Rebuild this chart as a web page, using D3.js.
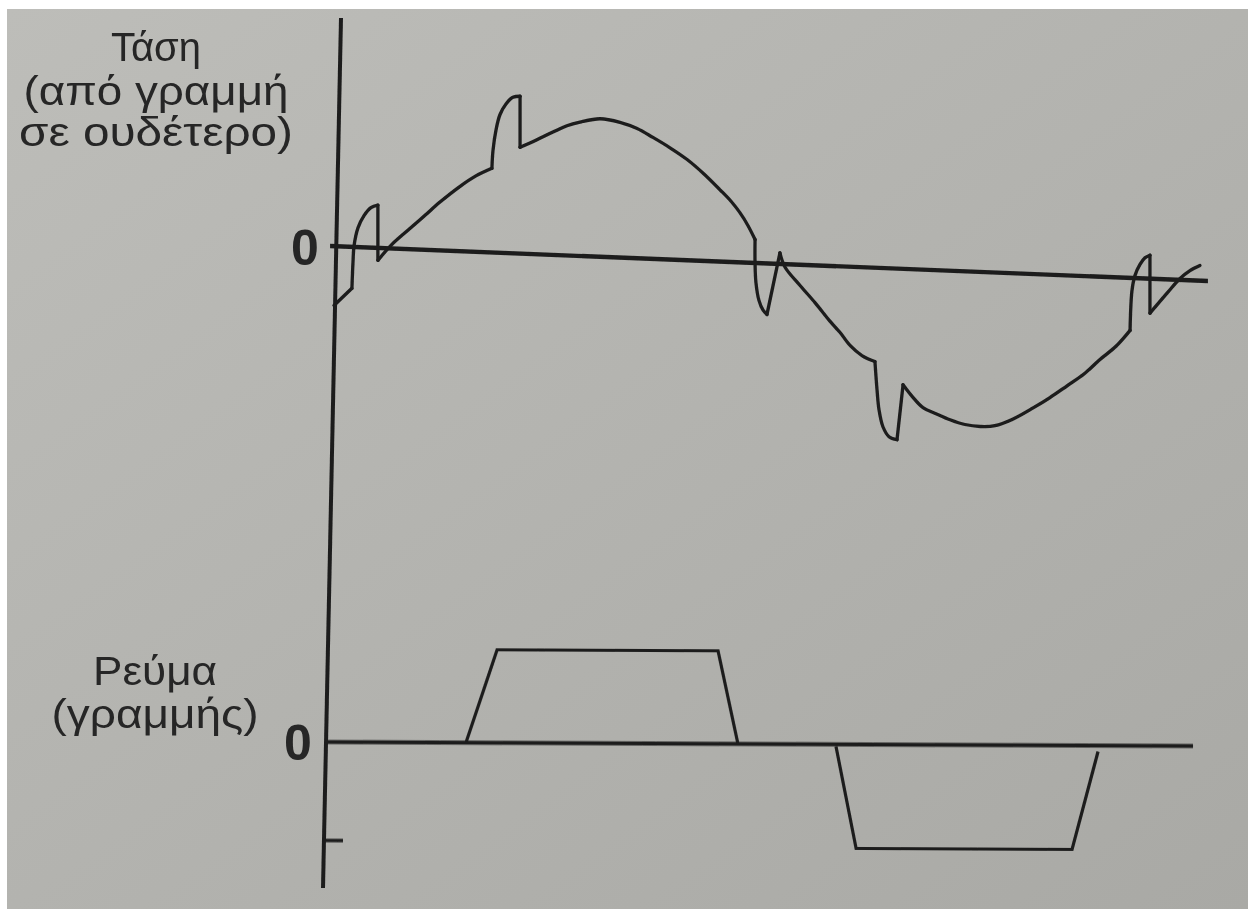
<!DOCTYPE html>
<html>
<head>
<meta charset="utf-8">
<script src="https://cdn.jsdelivr.net/npm/d3@7"></script>
<style>
  html, body { margin: 0; padding: 0; background: #fff; }
  svg { display: block; }
</style>
</head>
<body>
<svg id="chart" width="1248" height="909"></svg>
<script>
// Line-to-neutral voltage of one phase, with commutation notches (electrical degrees, per unit)
const voltageDeg = [
  -8.8, -0.5, 0, 0.5, 2.3, 5.1, 8.3, 11.5, 11.5, 18.0, 26.3, 33.3, 40.2, 49.5, 56.8, 64.2,
  64.7, 66.1, 67.9, 70.7, 73.9, 77.2, 77.2, 85.0, 92.4, 98.9, 104.9, 114.2, 123.4, 131.3,
  138.6, 146.5, 154.4, 162.2, 169.6, 174.7, 178.8, 182.5, 185.8, 185.8, 186.2, 187.6, 189.5,
  191.3, 197.3, 199.6, 206.6, 213.5, 220.4, 225.1, 229.7, 235.2, 241.2, 242.2, 243.1, 244.9,
  247.7, 251.4, 254.2, 258.3, 263.4, 269.4, 275.9, 282.8, 289.8, 296.7, 304.6, 314.3, 322.1,
  330.0, 337.8, 345.2, 352.6, 359.1, 360.0, 361.4, 363.7, 366.0, 368.3, 368.3, 376.2, 382.2,
  386.8, 391.4
];
const voltagePU = [
  -0.43, -0.30, -0.11, 0.01, 0.14, 0.23, 0.29, 0.31, -0.09, 0.03, 0.15, 0.25, 0.35, 0.47, 0.55, 0.61,
  0.74, 0.89, 1.00, 1.08, 1.13, 1.14, 0.77, 0.83, 0.89, 0.94, 0.97, 1.00, 0.98, 0.94,
  0.88, 0.81, 0.73, 0.63, 0.52, 0.44, 0.36, 0.27, 0.17, 0.00, -0.14, -0.27, -0.34,
  -0.37, 0.08, -0.02, -0.15, -0.27, -0.40, -0.48, -0.57, -0.64, -0.68, -0.89, -1.03, -1.15,
  -1.22, -1.24, -0.84, -0.92, -1.00, -1.04, -1.08, -1.11, -1.12, -1.11, -1.06, -0.97, -0.89,
  -0.80, -0.71, -0.60, -0.50, -0.38, -0.09, 0.02, 0.10, 0.15, 0.17, -0.25, -0.10, 0.01,
  0.07, 0.11
];
// points of the voltage trace where the pen turns sharply (notch edges)
const voltageCorners = [1, 7, 8, 15, 21, 22, 38, 43, 44, 52, 57, 58, 73, 78, 79];

// Line current: positive and negative quasi-square pulses (electrical degrees, per unit)
const currentPosDeg = [52.2, 66.6, 168.7, 177.9];
const currentPosPU  = [0.00, 0.93, 0.93, 0.00];
const currentNegDeg = [223.2, 232.5, 332.3, 344.3];
const currentNegPU  = [-0.02, -1.04, -1.04, -0.06];
const currentTicks  = [-1];

// Extent of the two zero lines (degrees)
const voltageZeroSpan = [-10.6, 395.1];
const currentZeroSpan = [-11.6, 388.2];

const voltageTitle = ["Τάση", "(από γραμμή", "σε ουδέτερο)"];
const currentTitle = ["Ρεύμα", "(γραμμής)"];
const zeroLabel = "0";

const svg = d3.select("#chart");
const W = 1248, H = 909;
const ink = "#1c1c1c";

// paper background
const defs = svg.append("defs");
const grad = defs.append("linearGradient").attr("id", "paper")
  .attr("x1", "0%").attr("y1", "0%").attr("x2", "100%").attr("y2", "100%");
grad.append("stop").attr("offset", "0%").attr("stop-color", "#bdbdb9");
grad.append("stop").attr("offset", "55%").attr("stop-color", "#b2b2ae");
grad.append("stop").attr("offset", "100%").attr("stop-color", "#a9a9a5");
defs.append("filter").attr("id", "soft")
  .append("feGaussianBlur").attr("stdDeviation", 0.6);

svg.append("rect").attr("width", W).attr("height", H).attr("fill", "#ffffff");
svg.append("rect").attr("x", 7).attr("y", 9).attr("width", W - 7).attr("height", H - 9)
  .attr("fill", "url(#paper)");

const inkG = svg.append("g").attr("filter", "url(#soft)");

// shared time axis
const x = d3.scaleLinear().domain([0, 360]).range([353, 1132]);

// voltage panel (baseline slightly tilted)
const vSlope = 0.03986;
const vTilt = Math.atan(vSlope) * 180 / Math.PI;
const yV = d3.scaleLinear().domain([-1, 1]).range([232.85 + 138, 232.85 - 138]);
const gV = inkG.append("g").attr("transform", `skewY(${vTilt})`);

// current panel
const iSlope = 0.00462;
const iTilt = Math.atan(iSlope) * 180 / Math.PI;
const yI = d3.scaleLinear().domain([-1, 1]).range([740.48 + 100, 740.48 - 100]);
const gI = inkG.append("g").attr("transform", `skewY(${iTilt})`);

// vertical axis shared by both traces
const axisTop = [341, 18], axisBottom = [323, 888];
inkG.append("line")
  .attr("x1", axisTop[0]).attr("y1", axisTop[1])
  .attr("x2", axisBottom[0]).attr("y2", axisBottom[1])
  .attr("stroke", ink).attr("stroke-width", 4);

// zero lines
gV.append("line")
  .attr("x1", x(voltageZeroSpan[0])).attr("x2", x(voltageZeroSpan[1]))
  .attr("y1", yV(0)).attr("y2", yV(0))
  .attr("stroke", ink).attr("stroke-width", 4.4);
gI.append("line")
  .attr("x1", x(currentZeroSpan[0])).attr("x2", x(currentZeroSpan[1]))
  .attr("y1", yI(0)).attr("y2", yI(0))
  .attr("stroke", ink).attr("stroke-width", 4);

// voltage waveform: smooth strokes between the sharp notch corners
const vData = voltageDeg.map((d, i) => [d, voltagePU[i]]);
const lineV = d3.line().x(d => x(d[0])).y(d => yV(d[1])).curve(d3.curveCatmullRom.alpha(0.5));
const breaks = [0, ...voltageCorners, vData.length - 1];
for (let k = 0; k < breaks.length - 1; k++) {
  const piece = vData.slice(breaks[k], breaks[k + 1] + 1);
  gV.append("path").datum(piece).attr("d", lineV)
    .attr("fill", "none").attr("stroke", ink).attr("stroke-width", 3.3)
    .attr("stroke-linejoin", "round").attr("stroke-linecap", "round");
}

// current pulses
const lineI = d3.line().x(d => x(d[0])).y(d => yI(d[1]));
[[currentPosDeg, currentPosPU], [currentNegDeg, currentNegPU]].forEach(([ds, vs]) => {
  gI.append("path").datum(ds.map((d, i) => [d, vs[i]])).attr("d", lineI)
    .attr("fill", "none").attr("stroke", ink).attr("stroke-width", 3.2)
    .attr("stroke-linejoin", "miter");
});

// current tick on the vertical axis
const axisXAt = yy => axisTop[0] + (axisBottom[0] - axisTop[0]) * (yy - axisTop[1]) / (axisBottom[1] - axisTop[1]);
currentTicks.forEach(t => {
  const ax = axisXAt(yI(t));
  const yy = yI(t) - ax * iSlope;
  gI.append("line")
    .attr("x1", ax).attr("x2", ax + 19)
    .attr("y1", yy).attr("y2", yy)
    .attr("stroke", ink).attr("stroke-width", 3.5);
});

// axis titles
const font = "'Liberation Sans', Arial, sans-serif";
const txt = svg.append("g").attr("fill", "#262626").attr("font-family", font).attr("filter", "url(#soft)");

const vWidths = [90, 265, 274];
const vBase = [61, 105, 146];
voltageTitle.forEach((s, i) => {
  txt.append("text").attr("x", 156).attr("y", vBase[i]).attr("text-anchor", "middle")
    .attr("font-size", 40).attr("textLength", vWidths[i]).attr("lengthAdjust", "spacingAndGlyphs")
    .text(s);
});
const cWidths = [124, 207];
const cBase = [685, 728];
currentTitle.forEach((s, i) => {
  txt.append("text").attr("x", 155).attr("y", cBase[i]).attr("text-anchor", "middle")
    .attr("font-size", 40).attr("textLength", cWidths[i]).attr("lengthAdjust", "spacingAndGlyphs")
    .text(s);
});

// zero markers beside the axis, centred on each zero line
const zeroV = yV(0) + x.range()[0] * vSlope;
const zeroI = yI(0) + x.range()[0] * iSlope;
txt.append("text").attr("x", 305).attr("y", zeroV).attr("dy", "0.36em")
  .attr("text-anchor", "middle").attr("font-size", 50).attr("font-weight", "bold").text(zeroLabel);
txt.append("text").attr("x", 298).attr("y", zeroI).attr("dy", "0.36em")
  .attr("text-anchor", "middle").attr("font-size", 50).attr("font-weight", "bold").text(zeroLabel);
</script>
</body>
</html>
